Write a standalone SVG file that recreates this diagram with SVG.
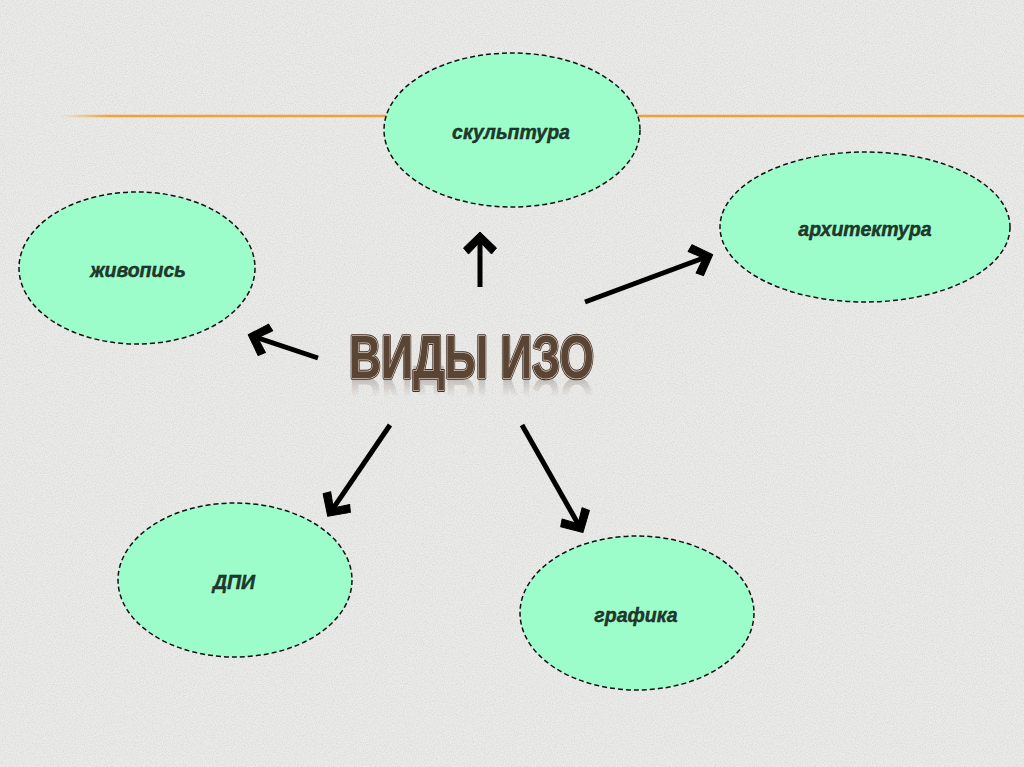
<svg xmlns="http://www.w3.org/2000/svg" xmlns:xlink="http://www.w3.org/1999/xlink" width="1024" height="767" viewBox="0 0 1024 767">
  <defs>
    <style>
      .node ellipse { fill: #9cfdcb; stroke: #111; stroke-width: 1.5; stroke-dasharray: 5 3; }
      .node text { font-family: "Liberation Sans", Arial, sans-serif; font-size: 19.5px; font-weight: bold; font-style: italic; fill: #23392d; stroke: #0f1f17; stroke-width: 0.4; text-anchor: middle; }
      .conn line { stroke: #000; stroke-width: 5; fill: none; marker-end: url(#chev); }
      .title { font-family: "Liberation Sans", Arial, sans-serif; font-size: 61px; font-weight: bold; }
    </style>
    <marker id="chev" markerUnits="userSpaceOnUse" viewBox="-30 -24 36 48" refX="0" refY="0" markerWidth="36" markerHeight="48" orient="auto" overflow="visible">
      <polygon points="4,0 -12,-16.5 -18,-11.5 -6,0 -18,11.5 -12,16.5" fill="#000" stroke="#000" stroke-width="1" stroke-linejoin="round"/>
    </marker>
    <filter id="noise" x="0" y="0" width="100%" height="100%">
      <feTurbulence type="fractalNoise" baseFrequency="0.9" numOctaves="2" seed="3" result="t"/>
      <feColorMatrix type="matrix" values="0 0 0 0 0.55  0 0 0 0 0.55  0 0 0 0 0.54  0 0 0 -1.6 1.0" />
    </filter>
    <linearGradient id="orange" gradientUnits="userSpaceOnUse" x1="60" y1="0" x2="1024" y2="0">
      <stop offset="0" stop-color="#f2a640" stop-opacity="0"/>
      <stop offset="0.05" stop-color="#f0a33a" stop-opacity="1"/>
      <stop offset="1" stop-color="#f0a030"/>
    </linearGradient>
    <linearGradient id="refl" gradientUnits="userSpaceOnUse" x1="0" y1="336" x2="0" y2="378">
      <stop offset="0" stop-color="#8a7a70" stop-opacity="0"/>
      <stop offset="0.55" stop-color="#8a7a70" stop-opacity="0"/>
      <stop offset="1" stop-color="#8a7a70" stop-opacity="0.4"/>
    </linearGradient>
    <text id="t" class="title" x="349" y="378" textLength="245" lengthAdjust="spacingAndGlyphs">ВИДЫ ИЗО</text>
  </defs>

  <rect width="1024" height="767" fill="#ebebe9"/>
  <rect width="1024" height="767" filter="url(#noise)" opacity="0.55"/>

  <line x1="60" y1="116" x2="1024" y2="116" stroke="url(#orange)" stroke-width="2.5"/>

  <g id="node-sculpture" class="node">
    <ellipse cx="512" cy="130" rx="128" ry="77"/>
    <text x="511" y="139">скульптура</text>
  </g>
  <g id="node-architecture" class="node">
    <ellipse cx="865" cy="227" rx="145" ry="75"/>
    <text x="865" y="236">архитектура</text>
  </g>
  <g id="node-painting" class="node">
    <ellipse cx="137" cy="268" rx="118" ry="76"/>
    <text x="138" y="277">живопись</text>
  </g>
  <g id="node-dpi" class="node">
    <ellipse cx="235" cy="580" rx="117" ry="77"/>
    <text x="234" y="589">ДПИ</text>
  </g>
  <g id="node-graphics" class="node">
    <ellipse cx="637" cy="613" rx="117" ry="77"/>
    <text x="636" y="622">графика</text>
  </g>

  <g id="node-title">
    <use xlink:href="#t" href="#t" transform="translate(0,756) scale(1,-1)" fill="url(#refl)"/>
    <use xlink:href="#t" href="#t" fill="none" stroke="#3f2d22" stroke-width="3.5" stroke-linejoin="round"/>
    <use xlink:href="#t" href="#t" fill="none" stroke="#d3c6b9" stroke-width="1.6" stroke-linejoin="round"/>
    <text class="title" x="349" y="378" textLength="245" lengthAdjust="spacingAndGlyphs" fill="#5a4434">ВИДЫ ИЗО</text>
  </g>

  <g id="connectors" class="conn">
    <line x1="480" y1="287" x2="480" y2="236"/>
    <line x1="318" y1="358" x2="252" y2="336"/>
    <line x1="585" y1="302" x2="709" y2="256"/>
    <line x1="390" y1="425" x2="330" y2="513"/>
    <line x1="522" y1="425" x2="581" y2="529"/>
  </g>
</svg>
